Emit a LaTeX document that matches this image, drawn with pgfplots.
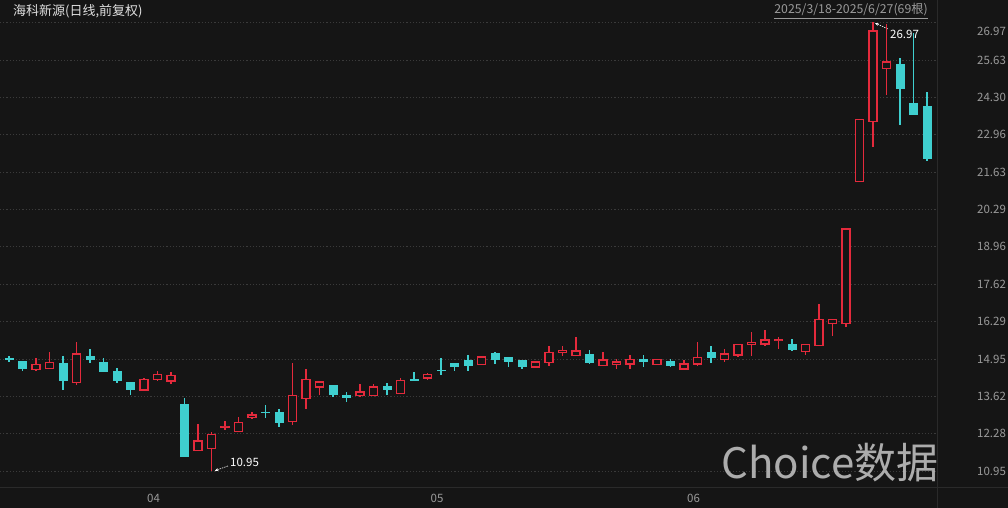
\documentclass[border=0pt]{standalone}
\usepackage{pgfplots}
\pgfplotsset{compat=1.18}
\usepackage{pgfplotstable}
\usetikzlibrary{arrows.meta}
\usepackage{fontspec}
\setmainfont{Noto Sans CJK SC}
\definecolor{bgc}{HTML}{151515}
\definecolor{upc}{HTML}{E42A3C}
\definecolor{dnc}{HTML}{3FCFCF}
\definecolor{gridc}{HTML}{3A3A3A}
\definecolor{labc}{HTML}{9A9A9A}
\definecolor{linec}{HTML}{2A2A2A}

% vertical filled bar of height \hh pt (wick)
\pgfdeclareplotmark{wick}{%
  \pgfpathrectangle{\pgfpoint{-0.65pt}{-0.5*\hh*1pt}}{\pgfpoint{1.3pt}{\hh*1pt}}%
  \pgfusepathqfill}
% filled body
\pgfdeclareplotmark{dbody}{%
  \pgfpathrectangle{\pgfpoint{-4.5pt}{-0.5*\hh*1pt}}{\pgfpoint{9pt}{\hh*1pt}}%
  \pgfusepathqfill}
% hollow body: outer red fill, inner background fill
\pgfdeclareplotmark{ubody}{%
  \pgfsetfillcolor{upc}%
  \pgfpathrectangle{\pgfpoint{-4.6pt}{-0.5*\hh*1pt-0.7pt}}{\pgfpoint{9.2pt}{\hh*1pt+1.4pt}}%
  \pgfusepathqfill
  \pgfsetfillcolor{bgc}%
  \pgfpathrectangle{\pgfpoint{-3.3pt}{-0.5*\ih*1pt}}{\pgfpoint{6.6pt}{\ih*1pt}}%
  \pgfusepathqfill}

% rising candles (close >= open): hollow red
\pgfplotstableread{
i O H L C
2 14.58 14.99 14.54 14.75
3 14.62 15.20 14.62 14.82
5 14.11 15.56 14.03 15.13
10 13.85 14.29 13.83 14.21
11 14.21 14.51 14.15 14.39
12 14.17 14.47 14.07 14.36
14 11.69 12.63 11.69 12.02
15 11.76 12.36 10.95 12.26
16 12.52 12.75 12.42 12.55
17 12.36 12.87 12.36 12.69
18 12.87 13.07 12.80 12.95
21 12.72 14.81 12.60 13.64
22 13.55 14.59 13.17 14.21
23 13.95 14.13 13.65 14.13
26 13.64 14.07 13.61 13.77
27 13.65 14.07 13.65 13.95
29 13.73 14.27 13.71 14.17
31 14.27 14.45 14.21 14.39
35 14.75 15.05 14.73 15.02
39 14.67 14.84 14.67 14.84
40 14.82 15.42 14.70 15.19
41 15.18 15.42 15.07 15.25
42 15.09 15.75 15.06 15.24
44 14.73 15.21 14.73 14.91
45 14.76 14.94 14.61 14.84
46 14.77 15.09 14.61 14.94
48 14.76 14.94 14.72 14.94
50 14.60 14.91 14.55 14.77
51 14.77 15.55 14.71 15.01
53 14.94 15.30 14.86 15.13
54 15.10 15.46 15.04 15.46
55 15.46 15.90 15.07 15.54
56 15.49 16.00 15.43 15.63
57 15.62 15.72 15.30 15.63
59 15.22 15.46 15.10 15.46
60 15.43 16.92 15.43 16.35
61 16.21 16.37 15.78 16.35
62 16.21 19.59 16.11 19.59
63 21.29 23.51 21.29 23.51
64 23.43 26.97 22.54 26.66
65 25.33 26.90 24.38 25.56
}\up

% falling candles: filled teal
\pgfplotstableread{
i O H L C
0 14.95 15.07 14.83 14.95
1 14.89 14.89 14.53 14.60
4 14.82 15.07 13.85 14.17
6 15.07 15.32 14.81 14.93
7 14.84 15.00 14.50 14.50
8 14.53 14.62 14.11 14.17
9 14.13 14.13 13.67 13.85
13 13.35 13.55 11.46 11.46
19 13.05 13.31 12.83 13.03
20 13.05 13.16 12.54 12.68
24 14.03 14.03 13.61 13.65
25 13.67 13.79 13.40 13.55
28 13.97 14.09 13.67 13.85
30 14.24 14.47 14.15 14.15
32 14.57 14.99 14.39 14.51
33 14.81 14.81 14.51 14.66
34 14.93 15.11 14.51 14.71
36 15.18 15.21 14.79 14.91
37 15.03 15.03 14.67 14.84
38 14.91 14.91 14.59 14.67
43 15.13 15.27 14.79 14.82
47 14.95 15.09 14.67 14.85
49 14.88 14.94 14.67 14.71
52 15.19 15.40 14.82 15.00
58 15.49 15.68 15.22 15.28
66 25.49 25.69 23.31 24.60
67 24.09 26.58 23.67 23.67
68 23.99 24.50 22.04 22.09
}\down

\begin{document}
\begin{tikzpicture}
\fill[bgc] (0,0) rectangle (1008pt,508pt);
\draw[linec, line width=0.8pt] (937pt,0) -- (937pt,508pt);
\draw[linec, line width=0.8pt] (0,21pt) -- (1008pt,21pt);

\begin{axis}[
  at={(0pt,21pt)}, anchor=south west,
  width=937pt, height=464.5pt, scale only axis,
  xmin=-0.667, xmax=68.74, ymin=10.379, ymax=26.97,
  axis line style={draw=none},
  tick style={draw=none}, major tick length=0pt,
  ytick={10.95,12.28,13.62,14.95,16.29,17.62,18.96,20.29,21.63,22.96,24.30,25.63,26.97},
  yticklabels={10.95,12.28,13.62,14.95,16.29,17.62,18.96,20.29,21.63,22.96,24.30,25.63,{}},
  ymajorgrids,
  grid style={gridc, dash pattern=on 1.2pt off 2pt, line width=0.8pt},
  yticklabel pos=right,
  yticklabel style={anchor=west, inner sep=0pt, xshift=40pt},
  xtick={10,31,50}, xticklabels={04,05,06},
  xticklabel style={anchor=center, inner sep=0pt, yshift=-11pt, xshift=9.5pt},
  ticklabel style={font=\fontsize{11.5}{12}\selectfont, text=labc},
  clip=false,
]
% wicks (high-low)
\addplot[only marks, forget plot, mark=wick, mark options={fill=upc, draw=none},
  visualization depends on={27.997*(\thisrow{H}-\thisrow{L}) \as \hh}]
  table[x=i, y expr={(\thisrow{H}+\thisrow{L})/2}] {\up};
\addplot[only marks, forget plot, mark=wick, mark options={fill=dnc, draw=none},
  visualization depends on={27.997*(\thisrow{H}-\thisrow{L}) \as \hh}]
  table[x=i, y expr={(\thisrow{H}+\thisrow{L})/2}] {\down};
% bodies (open-close)
\addplot[only marks, forget plot, mark=ubody, mark options={draw=none},
  visualization depends on={27.997*abs(\thisrow{C}-\thisrow{O}) \as \hh},
  visualization depends on={max(27.997*abs(\thisrow{C}-\thisrow{O})-1.2,0) \as \ih}]
  table[x=i, y expr={(\thisrow{O}+\thisrow{C})/2}] {\up};
\addplot[only marks, forget plot, mark=dbody, mark options={fill=dnc, draw=none},
  visualization depends on={max(27.997*abs(\thisrow{C}-\thisrow{O}),1.4) \as \hh}]
  table[x=i, y expr={(\thisrow{O}+\thisrow{C})/2}] {\down};

% annotations
\draw[white, dash pattern=on 1.5pt off 1pt, line width=0.6pt, -{Stealth[length=3.5pt,width=3pt]}]
  (axis cs:65.1,26.74) -- (axis cs:64.15,26.95);
\node[anchor=west, inner sep=0pt, text=white, font=\fontsize{11.5}{12}\selectfont] at (axis cs:65.26,26.56) {26.97};
\draw[white, dash pattern=on 1.5pt off 1pt, line width=0.6pt, -{Stealth[length=3.5pt,width=3pt]}]
  (axis cs:16.22,11.13) -- (axis cs:15.25,10.96);
\node[anchor=west, inner sep=0pt, text=white, font=\fontsize{11.5}{12}\selectfont] at (axis cs:16.37,11.24) {10.95};
\end{axis}

\node[anchor=west, inner sep=0pt, text=labc, font=\fontsize{11.5}{12}\selectfont] at (977pt,477pt) {26.97};
\node[anchor=west, inner sep=0pt, text=white!88!black, font=\fontsize{13}{14}\selectfont] at (13pt,497pt) {海科新源(日线,前复权)};
\node[anchor=east, inner sep=0pt, text=labc, font=\fontsize{12.3}{13}\selectfont] at (928pt,497pt) {\underline{2025/3/18-2025/6/27(69根)}};
\node[text=white!78!black, opacity=0.85, inner sep=0pt, font=\fontsize{42}{44}\selectfont] at (830pt,45pt) {Choice数据};

\pgfresetboundingbox
\useasboundingbox (0,0) rectangle (1008pt,508pt);
\end{tikzpicture}
\end{document}
